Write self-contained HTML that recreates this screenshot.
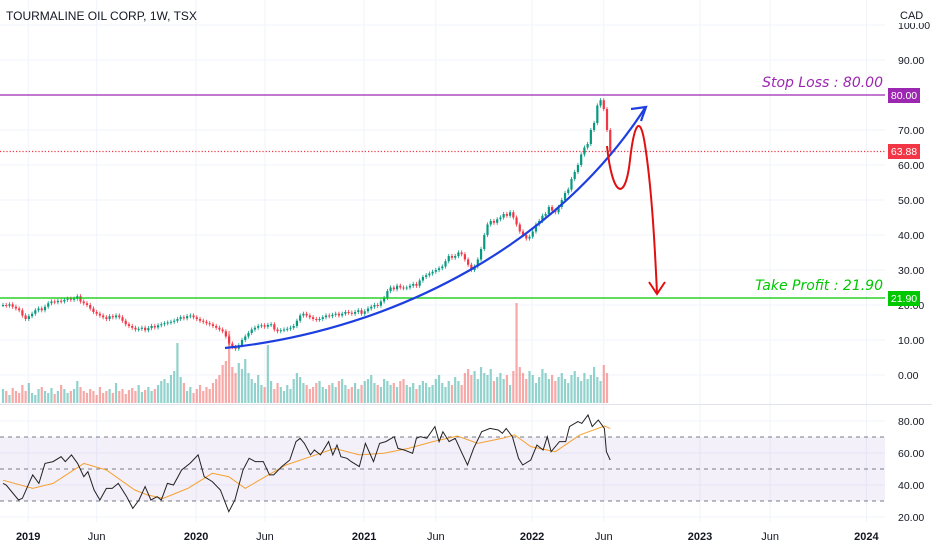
<!DOCTYPE html>
<html><head><meta charset="utf-8"><style>
html,body{margin:0;padding:0;background:#fff;}
svg{display:block;font-family:"Liberation Sans",sans-serif;}
</style></head><body>
<svg id="chart" width="932" height="550" viewBox="0 0 932 550" xmlns="http://www.w3.org/2000/svg">
<g id="grid"></g>
<rect x="0" y="437" width="885" height="64" fill="#7e57c2" fill-opacity="0.09"/>
<g id="rsiLines"></g>
<g id="vol"></g>
<g id="candles"></g>
<line x1="0" y1="95" x2="885" y2="95" stroke="#9c27b0" stroke-width="1.2"/>
<line x1="0" y1="298" x2="885" y2="298" stroke="#00c800" stroke-width="1.2"/>
<line x1="0" y1="151.5" x2="885" y2="151.5" stroke="#f23645" stroke-width="1.2" stroke-dasharray="1.2,2"/>
<text x="883" y="87" text-anchor="end" font-size="14" font-style="italic" font-family="DejaVu Sans, sans-serif" fill="#9c27b0">Stop Loss : 80.00</text>
<text x="883" y="290" text-anchor="end" font-size="14" font-style="italic" font-family="DejaVu Sans, sans-serif" fill="#00c800">Take Profit : 21.90</text>
<path d="M225,348 C400,330 560,240 645,108" fill="none" stroke="#1e3fe0" stroke-width="2.2"/>
<path d="M631,109 L646,107 L641,121" fill="none" stroke="#1e3fe0" stroke-width="2.2"/>
<path d="M607,146 C612,195 625,205 630,160 C634,125 640,112 645,145 C652,190 655,250 657,293" fill="none" stroke="#e01010" stroke-width="2"/>
<path d="M649,282 L657,294 L665,282" fill="none" stroke="#e01010" stroke-width="2"/>
<path id="rsiMa" fill="none" stroke="#f7a030" stroke-width="1"/>
<path id="rsiLine" fill="none" stroke="#222" stroke-width="1"/>
<line x1="0" y1="404.5" x2="932" y2="404.5" stroke="#e0e3eb"/>
<g id="axes"></g>
<text x="6" y="20" font-size="12" fill="#131722">TOURMALINE OIL CORP, 1W, TSX</text>
<rect x="896" y="6" width="30" height="17" fill="#fff"/>
<text x="900" y="19" font-size="11" fill="#131722">CAD</text>
<rect x="888" y="88" width="32" height="15" fill="#9c27b0"/>
<text x="904" y="99" text-anchor="middle" font-size="10.5" fill="#fff">80.00</text>
<rect x="888" y="144" width="32" height="15" fill="#f23645"/>
<text x="904" y="155" text-anchor="middle" font-size="10.5" fill="#fff">63.88</text>
<rect x="888" y="291" width="32" height="15" fill="#00c800"/>
<text x="904" y="302" text-anchor="middle" font-size="10.5" fill="#fff">21.90</text>
</svg>
<script>
const closes=[20,19.8,20.2,19.5,19,18.5,17,
16,16.8,17.5,18.5,19,18.5,19.5,20.5,21,20.8,21.2,21,21.5,21.8,21.5,21.8,22.5,
21,20.5,20,19,18,17.5,17,16.5,16,16.8,16.5,17,16.5,15.5,14.5,14,
13.5,13,13.2,13.5,12.8,13.4,14,13.6,14.2,14.5,14.8,
15,15.2,15.5,16,16.5,16.2,16.8,17,16.5,16,15.5,
15.2,14.8,14.5,14,13.5,13,12.5,11,9,
8,7.5,8.5,10,11,12,13,13.5,14,14.2,13.8,14.3,
14.5,13,12.5,12.8,13,13.2,13.5,14,15.5,17,17.5,17,16.5,
16,15.8,16,16.5,17,16.8,17.2,17.5,17,17.5,18,17.8,17.5,18,18.5,17.5,
18.2,19,19.5,20,19.8,21,22,
24,25,24.5,25.5,25,24.8,25,
25.5,26,25.5,27,28,28.5,29,
29.5,30,30.5,31,32.5,34,33.5,
34,35,34.5,33,31.5,30,31,
33,36,40,43,44,43.5,44.5,
45,46,45.5,46.5,45,43,41,
40,39,39.5,41,43,44,45.5,
46,48,47,46.5,48,50,52,
53,56,58,60,63,65,66,
70,72,77,78.5,76,70,63.88];
const volumes=[14,12,8,15,12,10,18,12,20,10,8,14,16,12,10,15,9,12,18,14,
10,12,14,22,16,12,10,14,12,8,16,10,12,14,10,20,12,14,9,13,
15,12,18,11,13,16,12,14,18,22,24,20,28,32,60,26,20,12,16,10,
14,18,12,16,14,20,24,28,38,42,72,36,30,40,34,44,30,24,20,28,
18,16,58,22,14,20,16,12,18,14,24,30,26,20,18,14,16,20,22,16,
14,18,20,16,22,24,18,14,16,20,14,18,22,24,28,20,18,16,24,22,
18,20,16,22,24,18,16,20,14,18,22,20,16,18,24,28,20,16,22,18,
26,22,18,30,34,28,32,24,36,30,28,34,22,26,30,24,28,18,32,100,
36,30,24,32,28,20,26,34,30,24,28,22,26,30,24,20,28,32,26,22,
30,24,28,36,26,22,38,30];
const rsiWeek=[0,1,4.8,6,9.2,11.1,13,15.5,18,19.3,21.2,23.1,25,26.3,28.2,30,32,33.8,35.7,38.3,40.2,42.1,44,45.8,47.7,49,50.9,52.8,55.3,57.9,60.4,62.3,64.8,67.3,69.9,71.8,74.3,76.2,78.1,80.6,82.5,83.8,86.3,88.8,90.7,92,93.3,95.2,96.4,98.3,100.8,102.1,103.4,104.6,106.5,107.8,110.3,112.2,114.7,116.6,118.5,121.1,122.3,124.2,126.8,128,129.3,131.2,133.7,135,136.2,138.1,140,141.9,143.8,145.7,148.2,150.8,153.3,154.6,155.8,157.7,159.6,160.9,163.4,165.3,167.2,168.5,169.7,172.3,174.2,175.4,178,179.2,181.1,182.4,184.3,186.2,186.8,188];
const rsiVal=[41,40,30.6,31.7,46.3,41,53.5,54.6,57.7,54.6,58.8,53.5,45.2,48.3,36.9,30.6,37.9,37.9,41,32.7,25.4,30.6,39,30.6,32.7,30.6,41,40,49.4,53.5,58.8,45.2,42.1,36.9,23.3,30.6,49.4,56.7,54.6,54.6,46.3,46.3,51.5,55.6,67.1,69.2,66,58.8,61.9,58.8,67.1,58.8,65,57.7,56.7,54.6,51.5,66,54.6,66,67.1,70.2,62.9,61.9,59.8,69.2,70.2,69.2,76.5,67.1,73.3,67.1,69.2,60.8,52.5,62.9,73.3,75.4,74.4,72.3,75.4,70.2,56.7,52.5,55.6,65,61.9,70.2,60.8,67.1,67.1,76.5,79.6,78.5,83.8,76.5,80.6,75.4,60.8,55.6];
const maWeek=[0,9.2,15.5,25,32,40.8,44.6,49.6,57.2,64.8,69.9,75,81.2,87.6,95.2,102.7,110.3,117.9,125.5,133.1,140.7,147,154.6,158.4,163.4,171,178.6,186.2,188];
const maVal=[43,37.9,41,53.5,49.4,36.9,33.8,31.7,37.9,47.3,45.2,37.9,45.2,52.5,57.7,62.9,58.8,59.8,62.9,67.1,70.6,66,69.2,71.3,64,60.8,71.3,76.9,75.4];
const priceTicks=[0,10,20,30,40,50,60,70,90,100];
const rsiTicks=[20,40,60,80];
const timeLabels=["2019","Jun","2020","Jun","2021","Jun","2022","Jun","2023","Jun","2024"];
const timeWeeks=[7.8,29,59.8,81.1,111.8,134,163.8,186,215.8,237.5,267.3];

const NS="http://www.w3.org/2000/svg";
const xW=w=>3+3.23*w;
const yP=v=>375-3.5*v;
const yR=v=>549-1.6*v;
const yV=v=>403-v;
function mk(tag,attrs,parent){const e=document.createElementNS(NS,tag);for(const k in attrs)e.setAttribute(k,attrs[k]);parent.appendChild(e);return e;}
const grid=document.getElementById('grid'),axes=document.getElementById('axes');
timeWeeks.forEach((w,i)=>{
  const l=mk('line',{x1:xW(w),x2:xW(w),y1:0,y2:522,stroke:'#f0f3fa'},grid);
  
  
  const t=mk('text',{x:xW(w),y:540,'text-anchor':'middle','font-size':11,fill:'#131722','font-weight':(timeLabels[i]==='Jun'?'normal':'bold')},axes);
  t.textContent=timeLabels[i];
  
  
});
priceTicks.forEach(v=>{
  const l=mk('line',{x1:0,x2:885,y1:yP(v),y2:yP(v),stroke:'#f0f3fa'},grid);
  
  
  const t=mk('text',{x:898,y:yP(v)+4,'font-size':10.5,fill:'#131722'},axes);
  t.textContent=v.toFixed(2);
  
  
});
rsiTicks.forEach(v=>{
  const l=mk('line',{x1:0,x2:885,y1:yR(v),y2:yR(v),stroke:'#f0f3fa'},grid);
  
  
  const t=mk('text',{x:898,y:yR(v)+4,'font-size':10.5,fill:'#131722'},axes);
  t.textContent=v.toFixed(2);
  
  
});
const rl=document.getElementById('rsiLines');
[70,50,30].forEach(v=>{
  const l=mk('line',{x1:0,x2:885,y1:yR(v),y2:yR(v),stroke:'#787b86','stroke-dasharray':'4,4'},rl);
  
  
});
const cg=document.getElementById('candles'),vg=document.getElementById('vol');
closes.forEach((c,i)=>{
  const o=i>0?closes[i-1]:c;
  const up=c>=o;
  const col=up?'#089981':'#f23645';
  const x=xW(i);
  const hi=Math.max(o,c)+0.6,lo=Math.min(o,c)-0.6;
  const w=mk('line',{x1:x,x2:x,y1:yP(hi),y2:yP(lo),stroke:col,'stroke-width':0.8},cg);
  
  
  const b=mk('rect',{x:x-1.1,y:yP(Math.max(o,c)),width:2.2,height:Math.max(1,Math.abs(yP(o)-yP(c))),fill:col},cg);
  
  
  const vb=mk('rect',{x:x-1.1,y:yV(volumes[i]),width:2.2,height:volumes[i],fill:up?'#26a69a':'#ef5350','fill-opacity':0.5},vg);
  
  
});
document.getElementById('rsiLine').setAttribute('d',rsiWeek.map((w,i)=>(i?'L':'M')+xW(w).toFixed(1)+','+yR(rsiVal[i]).toFixed(1)).join(' '));
document.getElementById('rsiMa').setAttribute('d',maWeek.map((w,i)=>(i?'L':'M')+xW(w).toFixed(1)+','+yR(maVal[i]).toFixed(1)).join(' '));
</script>
</body></html>
